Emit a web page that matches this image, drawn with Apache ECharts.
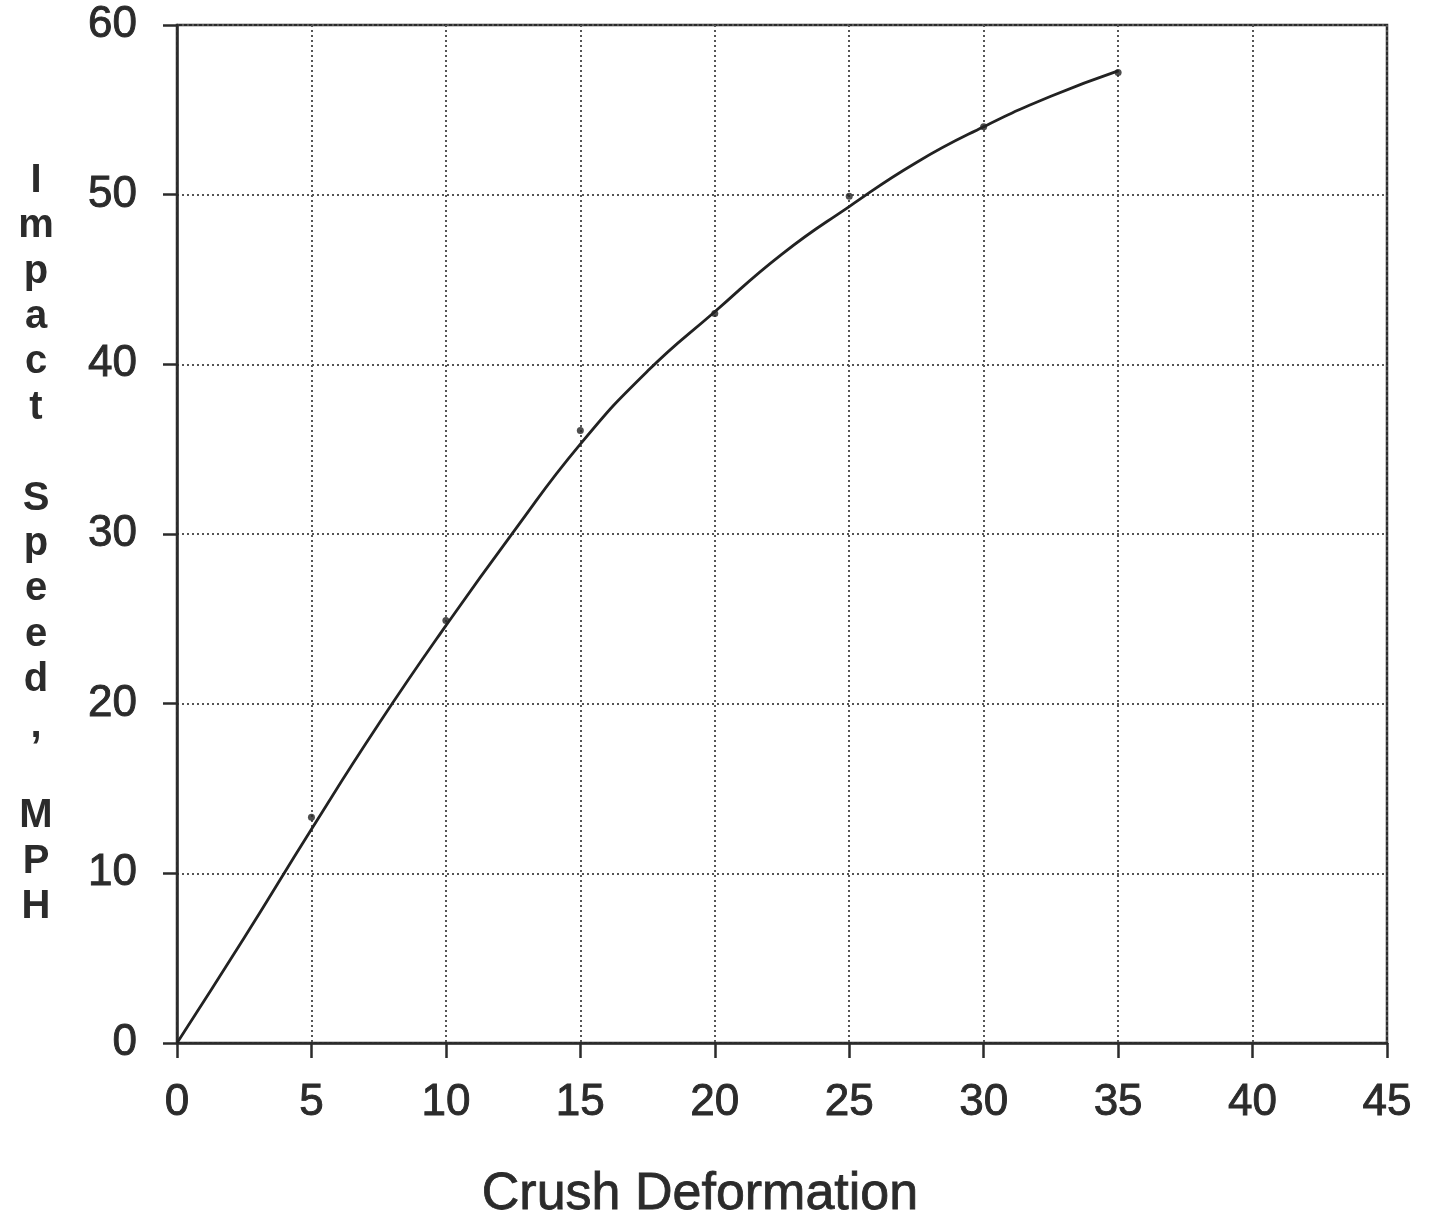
<!DOCTYPE html>
<html>
<head>
<meta charset="utf-8">
<script src="https://cdn.jsdelivr.net/npm/echarts@6/dist/echarts.min.js"></script>
<style>
html,body{margin:0;padding:0;background:#fff;}
#chart{width:1437px;height:1226px;}
</style>
</head>
<body>
<div id="chart"></div>
<script>
// Measured data points (Crush Deformation vs Impact Speed, MPH)
const pointX = [5, 10, 15, 20, 25, 30, 35];
const pointY = [13.3, 24.9, 36.1, 43.0, 49.9, 54.0, 57.2];

// Fitted curve
const curveX = [0, 2.5, 5, 7.5, 10, 12.5, 15, 17.5, 20, 22.5, 25, 27.5, 30, 32.5, 35];
const curveY = [0, 6.2, 12.6, 18.8, 24.6, 30.1, 35.3, 39.6, 43.1, 46.5, 49.3, 51.9, 54.0, 55.8, 57.3];

const xTicks = [0, 5, 10, 15, 20, 25, 30, 35, 40, 45];
const yTicks = [0, 10, 20, 30, 40, 50, 60];

const xTitle = 'Crush Deformation';
const yTitle = 'Impact Speed, MPH';

const FONT = '"Liberation Sans", Arial, Helvetica, sans-serif';
const INK = '#2b2b2b';

const chart = echarts.init(document.getElementById('chart'), null, {renderer: 'canvas'});

const yTitleStacked = yTitle.split('').map(c => c === ' ' ? '' : c).join('\n');

const labelStyle = {color: INK, fontFamily: FONT, fontSize: 44, textBorderColor: INK, textBorderWidth: 0.9};

chart.setOption({
  animation: false,
  backgroundColor: '#fff',
  grid: {left: 177, right: 50, top: 25, bottom: 183, show: true, borderColor: INK, borderWidth: 2.5, backgroundColor: 'transparent'},
  xAxis: {
    type: 'value', min: xTicks[0], max: xTicks[xTicks.length - 1], interval: 5,
    axisLine: {show: true, lineStyle: {color: INK, width: 2.5}},
    axisTick: {show: true, inside: false, length: 15, lineStyle: {color: INK, width: 2.5}},
    axisLabel: Object.assign({margin: 38}, labelStyle),
    splitLine: {show: true, lineStyle: {color: '#555', width: 2, type: [2, 3]}}
  },
  yAxis: {
    type: 'value', min: yTicks[0], max: yTicks[yTicks.length - 1], interval: 10,
    axisLine: {show: true, lineStyle: {color: INK, width: 2.5}},
    axisTick: {show: true, inside: false, length: 14, lineStyle: {color: INK, width: 2.5}},
    axisLabel: Object.assign({margin: 40}, labelStyle),
    splitLine: {show: true, lineStyle: {color: '#555', width: 2, type: [2, 3]}}
  },
  graphic: [
    {type: 'text', x: 36, y: 158, style: {text: yTitleStacked, font: 'bold 40px ' + FONT, fill: INK, lineHeight: 45.4, align: 'center'}},
    {type: 'text', x: 700, y: 1195, style: {text: xTitle, font: '52px ' + FONT, fill: INK, align: 'center', verticalAlign: 'middle', stroke: INK, lineWidth: 0.8}}
  ],
  series: [
    {
      type: 'line', data: curveX.map((x, i) => [x, curveY[i]]),
      smooth: 0.5, showSymbol: false,
      lineStyle: {color: '#222', width: 2.8}
    },
    {
      type: 'scatter', data: pointX.map((x, i) => [x, pointY[i]]),
      symbol: 'circle', symbolSize: 7, itemStyle: {color: '#222'}
    }
  ]
});
</script>
</body>
</html>
